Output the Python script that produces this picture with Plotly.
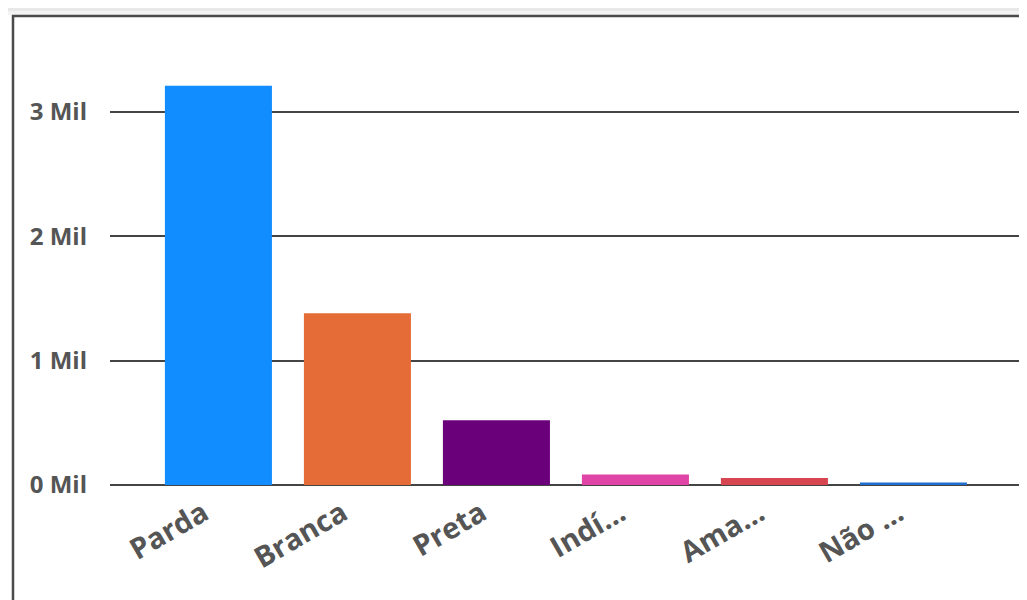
import plotly.graph_objects as go

categories = ["Parda", "Branca", "Preta", "Indí…", "Ama…", "Não …"]
values_mil = [3.21, 1.38, 0.52, 0.085, 0.056, 0.021]
colors = ["#118DFF", "#E66C37", "#6B007B", "#E044A7", "#D64550", "#1F6FD0"]
tick_vals = [0, 1, 2, 3]
tick_text = ["0 Mil", "1 Mil", "2 Mil", "3 Mil"]

fig = go.Figure(go.Bar(
    x=list(range(len(categories))),
    y=values_mil,
    marker=dict(color=colors, line=dict(width=0)),
    width=0.77,
    hoverinfo="skip",
))

# the page body adds an 8px offset; work in figure coordinates
OFF = 8
W, H = 1027, 600 - OFF
L, R, T, B = 110 - OFF, 0, 40 - OFF, H - (485 - OFF)
unit = 139.0  # px per category
pw, ph = W - L - R, H - T - B

def px(x):
    return (x - OFF - L) / pw

def py(y):
    return (H - B - (y - OFF)) / ph

shapes = [
    dict(type="rect", xref="paper", yref="paper", x0=px(-20), x1=px(1060), y0=py(-20), y1=py(14),
         fillcolor="#E8E8E8", line=dict(width=0), layer="below"),
    dict(type="rect", xref="paper", yref="paper", x0=px(-20), x1=px(1060), y0=py(11), y1=py(15),
         fillcolor="#F3F3F3", line=dict(width=0), layer="below"),
    dict(type="line", xref="paper", yref="paper", x0=px(12), x1=px(1060), y0=py(16), y1=py(16),
         line=dict(color="#4A4A4A", width=2.5)),
    dict(type="line", xref="paper", yref="paper", x0=px(13), x1=px(13), y0=py(15), y1=py(640),
         line=dict(color="#4A4A4A", width=2.5)),
]

x0 = -0.78
fig.update_layout(
    width=W, height=H,
    margin=dict(l=L, r=R, t=T, b=B, pad=0),
    paper_bgcolor="white",
    plot_bgcolor="white",
    showlegend=False,
    shapes=shapes,
    font=dict(family="Open Sans", color="#555555"),
    xaxis=dict(
        range=[x0, x0 + pw / unit],
        tickvals=list(range(len(categories))),
        ticktext=categories,
        tickangle=-30,
        tickfont=dict(size=29, family="Open Sans", weight="bold", color="#555555"),
        showgrid=False, zeroline=False, showline=False,
        ticks="", ticklabelstandoff=5, ticklabelshift=-15,
    ),
    yaxis=dict(
        range=[0, ph / 124.4],
        tickvals=tick_vals,
        ticktext=tick_text,
        tickfont=dict(size=24, family="Open Sans", weight="bold", color="#555555"),
        showgrid=True, gridcolor="#444444", gridwidth=2,
        zeroline=True, zerolinecolor="#444444", zerolinewidth=2,
        showline=False, ticks="", ticklabelstandoff=22,
    ),
)

fig.write_html("out.html")
